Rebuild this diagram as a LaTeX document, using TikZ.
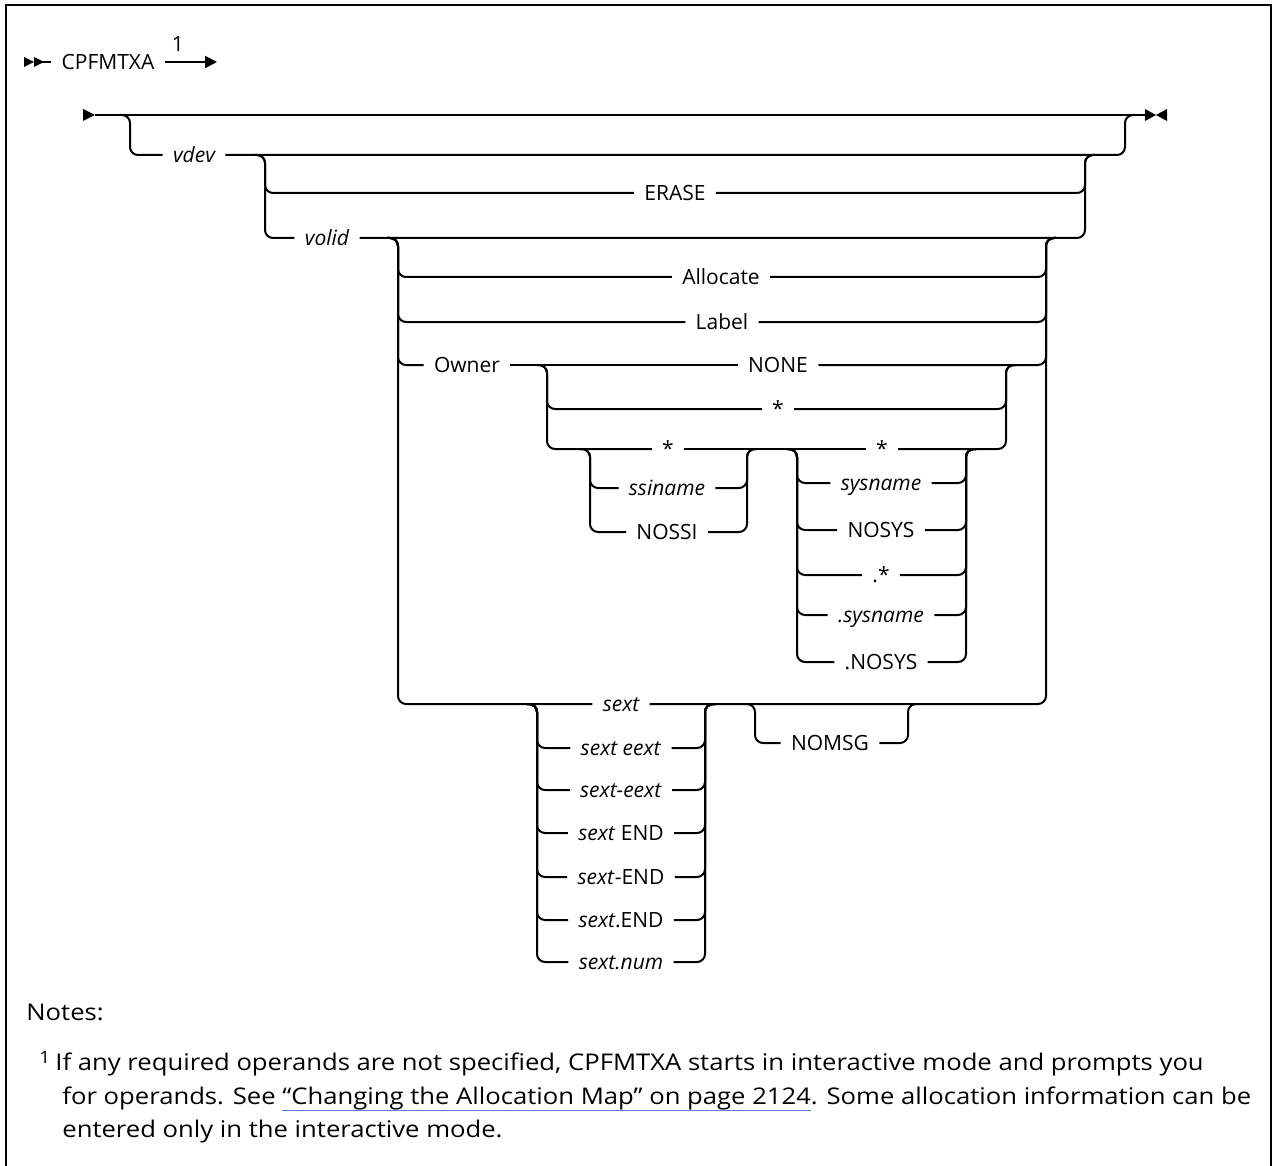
\documentclass[tikz,border=0pt]{standalone}
\usepackage{fontspec}
\setmainfont{Open Sans}
\newfontfamily\notefont{Open Sans}[FakeStretch=1.115]
\usetikzlibrary{arrows.meta}

\definecolor{linkblue}{RGB}{88,126,196}
\newcommand\railsize{\fontsize{10.5}{12}\selectfont}
\newcommand\notesize{\notefont\fontsize{11.5}{13}\selectfont}
\newcommand\ulink[1]{\setbox0\hbox{#1}\rlap{\color{linkblue}\rule[-3.6pt]{\wd0}{0.7pt}}\box0}

\begin{document}
\begin{tikzpicture}[x=0.5pt,y=-0.5pt,
    rail/.style={line width=1pt,rounded corners=4pt},
    opt/.style={font=\railsize,inner xsep=5pt,inner ysep=0pt,text height=7.5pt,text depth=0pt},
    var/.style={opt,font=\railsize\itshape},
    note/.style={font=\notesize,anchor=base west,inner sep=0pt}]
    \useasboundingbox (0,0) rectangle (1274,1166);
    \draw[line width=1.3pt] (6,1166) |- (1271,5) -- (1271,1166);

    % command line
    \fill (24,57) -- (34,62) -- (24,67) -- cycle;
    \fill (34,57) -- (44,62) -- (34,67) -- cycle;
    \node[opt] (cmd) at (108,62) {CPFMTXA};
    \coordinate (go) at (217,62);
    \draw[line width=1pt] (42,62) -- (cmd.west);
    \draw[line width=1pt,-{Triangle[length=6pt,width=6pt]}] (cmd.east) -- (go);
    \node[opt] (fn) at (178,44) {1};

    % main rail
    \coordinate (st) at (95,115);
    \coordinate (en) at (1145,115);
    \fill (83,109) -- (st) -- (83,121) -- cycle;
    \fill (en) ++(0,-6) -- ++(11,6) -- ++(-11,6) -- cycle;
    \fill (1167,109) -- (1156,115) -- (1167,121) -- cycle;
    \draw[rail] (st) -- (en);

    \coordinate (aL) at (130,115); \coordinate (aR) at (1125,115);
    \coordinate (bL) at (265,155); \coordinate (bR) at (1085,155);
    \coordinate (cL) at (398,238); \coordinate (cR) at (1046,238);
    \coordinate (dL) at (547,365); \coordinate (dR) at (1006,365);
    \coordinate (eL) at (590,449); \coordinate (eR) at (747,449);
    \coordinate (fL) at (797,449); \coordinate (fR) at (966,449);
    \coordinate (gL) at (537,704); \coordinate (gR) at (705,704);
    \coordinate (hL) at (755,704); \coordinate (hR) at (908,704);

    % vdev
    \node[var] (vdev) at (194,155) {vdev};
    \draw[rail] ([xshift=-5pt]aL) -| (aL |- vdev) -- (vdev.west);
    \draw[rail] (vdev.east) -| (aR) -- ([xshift=5pt]aR);

    % ERASE / volid
    \node[opt] (erase) at (675,193) {ERASE};
    \node[var] (volid) at (327,238) {volid};
    \foreach \n in {erase,volid} {
        \draw[rail] ([xshift=-5pt]bL) -| (bL |- \n) -- (\n.west);
        \draw[rail] (\n.east) -| (bR) -- ([xshift=5pt]bR);
    }

    % after volid
    \node[opt] (alloc) at (721,277) {Allocate};
    \node[opt] (label) at (722,322) {Label};
    \node[opt] (owner) at (467,365) {Owner};
    \node[var] (sext) at (621,704) {sext};
    \foreach \n in {alloc,label,owner,sext}
        \draw[rail] ([xshift=-5pt]cL) -| (cL |- \n) -- (\n.west);
    \foreach \n in {alloc,label}
        \draw[rail] (\n.east) -| (cR) -- ([xshift=5pt]cR);

    % Owner operands
    \node[opt] (none) at (778,365) {NONE};
    \node[opt] (star) at (778,409) {*};
    \node[opt] (ssi) at (668,449) {*};
    \node[opt] (sys) at (882,449) {*};
    \draw[rail] (owner.east) -- (none.west);
    \draw[rail] (none.east) -| (cR) -- ([xshift=5pt]cR);
    \foreach \n in {star,ssi}
        \draw[rail] ([xshift=-5pt]dL) -| (dL |- \n) -- (\n.west);
    \draw[rail] (ssi.east) -- (sys.west);
    \foreach \n in {star,sys}
        \draw[rail] (\n.east) -| (dR) -- ([xshift=5pt]dR);

    \foreach \n/\y/\t in {ssn/488/\textit{ssiname},nossi/532/NOSSI} {
        \node[opt] (\n) at (667,\y) {\t};
        \draw[rail] ([xshift=-5pt]eL) -| (eL |- \n) -- (\n.west);
        \draw[rail] (\n.east) -| (eR) -- ([xshift=5pt]eR);
    }
    \foreach \n/\y/\t in {syn/483/\textit{sysname},nosys/530/NOSYS,dstar/575/.*,dsyn/615/\textit{.sysname},dnosys/662/.NOSYS} {
        \node[opt] (\n) at (881,\y) {\t};
        \draw[rail] ([xshift=-5pt]fL) -| (fL |- \n) -- (\n.west);
        \draw[rail] (\n.east) -| (fR) -- ([xshift=5pt]fR);
    }

    % extents
    \draw[rail] (sext.east) -| (cR) -- ([xshift=5pt]cR);
    \foreach \n/\y/\t in {x1/748/{\textit{sext eext}},x2/790/{\textit{sext-eext}},x3/833/{\textit{sext} END},
                          x4/877/{\textit{sext}-END},x5/920/{\textit{sext}.END},x6/962/{\textit{sext.num}}} {
        \node[opt] (\n) at (621,\y) {\t};
        \draw[rail] ([xshift=-5pt]gL) -| (gL |- \n) -- (\n.west);
        \draw[rail] (\n.east) -| (gR) -- ([xshift=5pt]gR);
    }
    \node[opt] (nomsg) at (830,743) {NOMSG};
    \draw[rail] ([xshift=-5pt]hL) -| (hL |- nomsg) -- (nomsg.west);
    \draw[rail] (nomsg.east) -| (hR) -- ([xshift=5pt]hR);

    % notes
    \node[note] (notes) at (26,1020) {Notes:};
    \node[note,font=\notefont\fontsize{8.5}{10}\selectfont] (fnum) at (39,1063) {1};
    \node[note] (l1) at (55,1070)
        {If any required operands are not specified, CPFMTXA starts in interactive mode and prompts you};
    \node[note] (l2) at (62,1104)
        {for operands. See \ulink{“Changing the Allocation Map” on page 2124}. Some allocation information can be};
    \node[note] (l3) at (62,1137)
        {entered only in the interactive mode.};
\end{tikzpicture}
\end{document}
